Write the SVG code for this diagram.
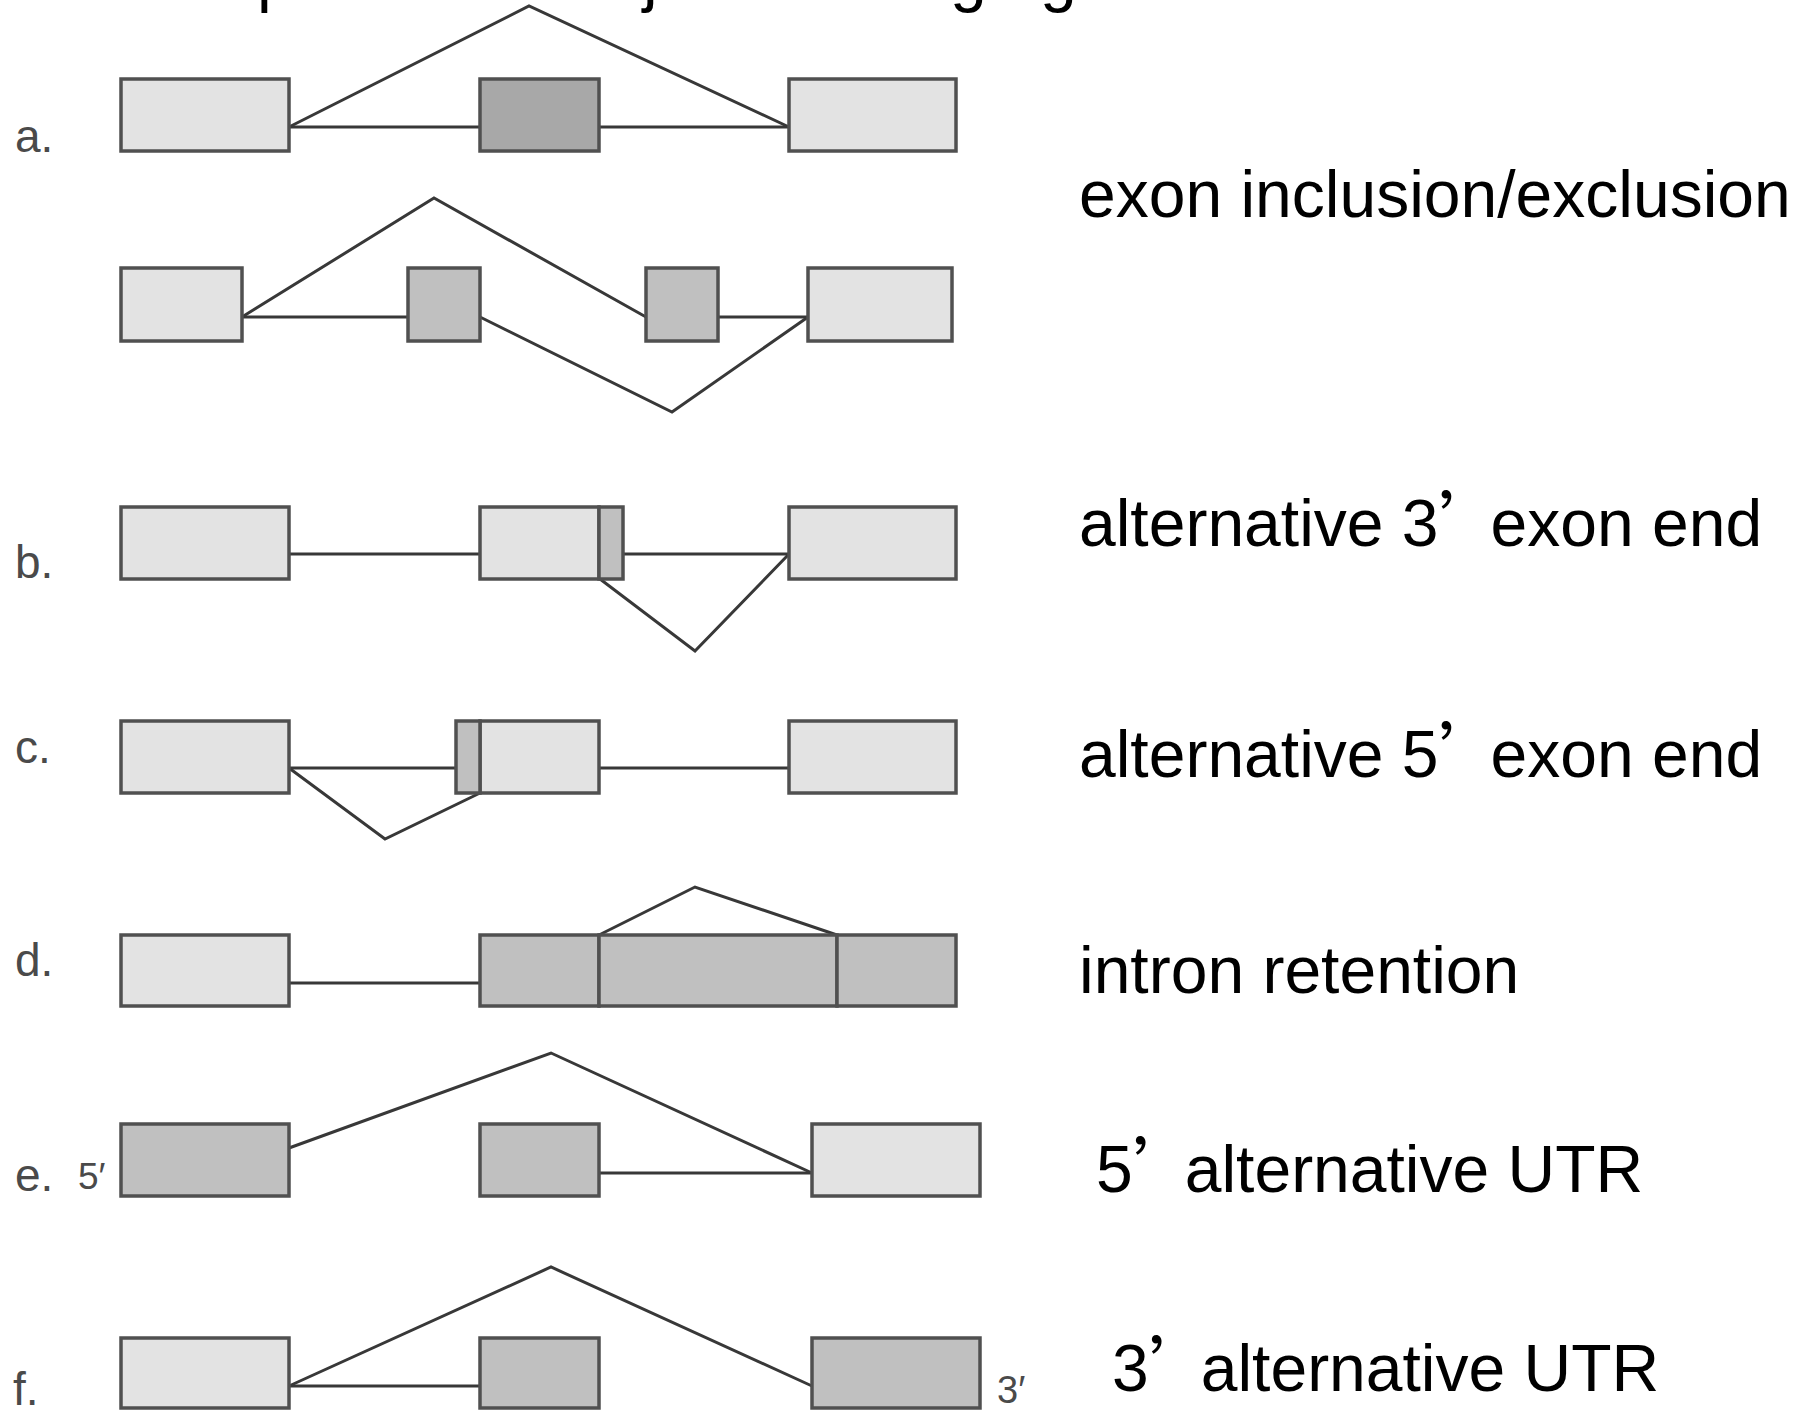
<svg xmlns="http://www.w3.org/2000/svg" width="1814" height="1411" viewBox="0 0 1814 1411">
<style>
.ex{stroke:#505050;stroke-width:3.5}
.l{fill:#e3e3e3}
.m{fill:#c0c0c0}
.d{fill:#a8a8a8}
.cn{fill:none;stroke:#383838;stroke-width:3;stroke-linejoin:miter}
.lab{font-family:"Liberation Sans","Noto Sans CJK SC",sans-serif;font-size:66px;fill:#000}
.q{font-family:"Noto Sans CJK SC",sans-serif;letter-spacing:-14px}
.row{font-family:"Liberation Sans",Arial,sans-serif;font-size:46px;fill:#4a4a4a}
.end{font-family:"Liberation Sans",Arial,sans-serif;fill:#4a4a4a}
</style>
<rect width="1814" height="1411" fill="#fff"/>
<g id="title-fragment" class="lab"><text x="257" y="-1">p</text><text x="643" y="-1">j</text><text x="950" y="-1">g</text><text x="1040" y="-1">g</text></g>

<g id="connectors">
<!-- row a -->
<polyline class="cn" points="289,127 480,127"/>
<polyline class="cn" points="599,127 789,127"/>
<polyline class="cn" points="289,127 529,6 789,127"/>
<!-- row a2 -->
<polyline class="cn" points="242,317 408,317"/>
<polyline class="cn" points="718,317 808,317"/>
<polyline class="cn" points="242,317 434,198 646,317"/>
<polyline class="cn" points="480,317 672,412 808,317"/>
<!-- row b -->
<polyline class="cn" points="289,554 480,554"/>
<polyline class="cn" points="623,554 789,554"/>
<polyline class="cn" points="600,579 695,651 789,554"/>
<!-- row c -->
<polyline class="cn" points="289,768 456,768"/>
<polyline class="cn" points="599,768 789,768"/>
<polyline class="cn" points="289,768 385,839 480,793"/>
<!-- row d -->
<polyline class="cn" points="289,983 480,983"/>
<polyline class="cn" points="599,935 695,887 837,935"/>
<!-- row e -->
<polyline class="cn" points="599,1173 812,1173"/>
<polyline class="cn" points="289,1148 551,1053 812,1173"/>
<!-- row f -->
<polyline class="cn" points="289,1386 480,1386"/>
<polyline class="cn" points="289,1386 551,1267 812,1386"/>
</g>

<g id="row-a">
<text class="row" x="15" y="152">a.</text>
<rect id="a-e1" class="ex l" x="121" y="79" width="168" height="72"/>
<rect id="a-e2" class="ex d" x="480" y="79" width="119" height="72"/>
<rect id="a-e3" class="ex l" x="789" y="79" width="167" height="72"/>
</g>
<g id="row-a2">
<rect id="a2-e1" class="ex l" x="121" y="268" width="121" height="73"/>
<rect id="a2-e2" class="ex m" x="408" y="268" width="72" height="73"/>
<rect id="a2-e3" class="ex m" x="646" y="268" width="72" height="73"/>
<rect id="a2-e4" class="ex l" x="808" y="268" width="144" height="73"/>
</g>
<g id="row-b">
<text class="row" x="15" y="578">b.</text>
<rect id="b-e1" class="ex l" x="121" y="507" width="168" height="72"/>
<rect id="b-e2" class="ex l" x="480" y="507" width="119" height="72"/>
<rect id="b-e2x" class="ex m" x="599" y="507" width="24" height="72"/>
<rect id="b-e3" class="ex l" x="789" y="507" width="167" height="72"/>
</g>
<g id="row-c">
<text class="row" x="15" y="763">c.</text>
<rect id="c-e1" class="ex l" x="121" y="721" width="168" height="72"/>
<rect id="c-e2" class="ex l" x="480" y="721" width="119" height="72"/>
<rect id="c-e2x" class="ex m" x="456" y="721" width="24" height="72"/>
<rect id="c-e3" class="ex l" x="789" y="721" width="167" height="72"/>
</g>
<g id="row-d">
<text class="row" x="15" y="976">d.</text>
<rect id="d-e1" class="ex l" x="121" y="935" width="168" height="71"/>
<rect id="d-e2" class="ex m" x="480" y="935" width="119" height="71"/>
<rect id="d-in" class="ex m" x="599" y="935" width="238" height="71"/>
<rect id="d-e3" class="ex m" x="837" y="935" width="119" height="71"/>
</g>
<g id="row-e">
<text class="row" x="15" y="1191">e.</text>
<text class="end" x="78" y="1189" font-size="37">5′</text>
<rect id="e-e1" class="ex m" x="121" y="1124" width="168" height="72"/>
<rect id="e-e2" class="ex m" x="480" y="1124" width="119" height="72"/>
<rect id="e-e3" class="ex l" x="812" y="1124" width="168" height="72"/>
</g>
<g id="row-f">
<text class="row" x="13" y="1405">f.</text>
<rect id="f-e1" class="ex l" x="121" y="1338" width="168" height="70"/>
<rect id="f-e2" class="ex m" x="480" y="1338" width="119" height="70"/>
<rect id="f-e3" class="ex m" x="812" y="1338" width="168" height="70"/>
<text class="end" x="997" y="1403" font-size="38">3′</text>
</g>

<g id="labels" class="lab">
<text x="1079" y="217">exon inclusion/exclusion</text>
<text x="1079" y="546">alternative 3<tspan class="q">’</tspan>exon end</text>
<text x="1079" y="777">alternative 5<tspan class="q">’</tspan>exon end</text>
<text x="1079" y="993">intron retention</text>
<text x="1096" y="1192">5<tspan class="q">’</tspan>alternative UTR</text>
<text x="1112" y="1391">3<tspan class="q">’</tspan>alternative UTR</text>
</g>
</svg>
